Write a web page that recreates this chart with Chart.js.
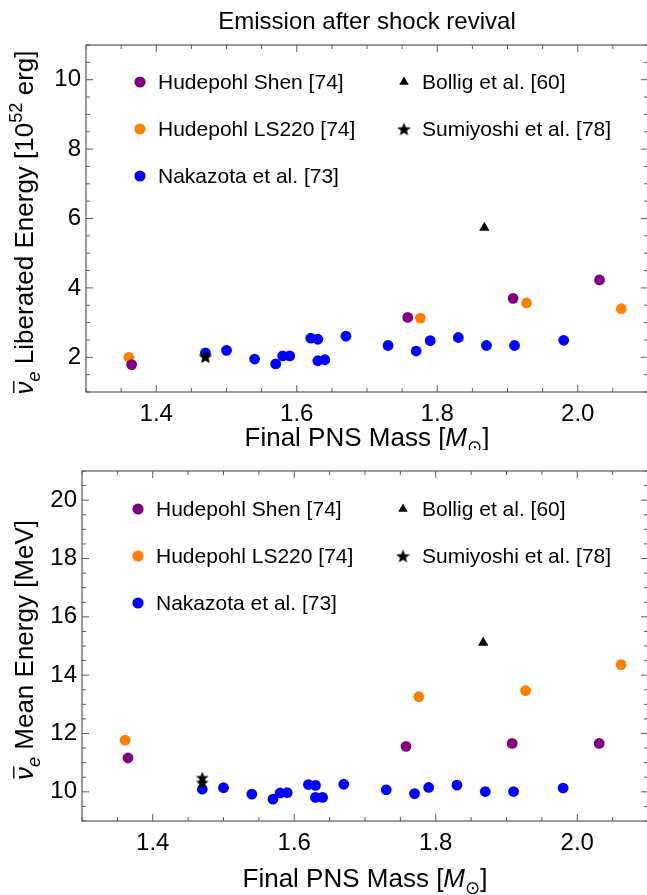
<!DOCTYPE html>
<html><head><meta charset="utf-8">
<script src="https://cdn.jsdelivr.net/npm/chart.js@4.4.1/dist/chart.umd.min.js"></script>
<style>
html,body{margin:0;padding:0;background:#fff;overflow:hidden;width:647px;height:895px;}
.wrap{position:absolute;left:0;width:650px;}
#w1{top:0;height:450px;} #w2{top:450px;height:445px;}
canvas{display:block;}
</style></head><body>
<div class="wrap" id="w1"><canvas id="c1"></canvas></div>
<div class="wrap" id="w2"><canvas id="c2"></canvas></div>
<script>
// ---- data ----
const seriesNames = ['Hudepohl Shen [74]','Hudepohl LS220 [74]','Nakazota et al. [73]','Bollig et al. [60]','Sumiyoshi et al. [78]'];
const massShen = [1.365, 1.758, 1.908, 2.031];
const energyShen = [1.79, 3.15, 3.70, 4.23];
const meanShen = [11.16, 11.56, 11.66, 11.66];
const massLS220 = [1.361, 1.776, 1.927, 2.062];
const energyLS220 = [2.00, 3.13, 3.57, 3.40];
const meanLS220 = [11.77, 13.26, 13.47, 14.36];
const massNakazato = [1.47,1.50,1.54,1.57,1.58,1.59,1.62,1.63,1.63,1.64,1.67,1.73,1.77,1.79,1.83,1.87,1.91,1.98];
const energyNakazato = [2.13,2.20,1.95,1.81,2.04,2.04,2.55,2.52,1.90,1.93,2.61,2.34,2.18,2.48,2.57,2.34,2.34,2.49];
const meanNakazato = [10.09,10.14,9.92,9.75,9.96,9.97,10.25,10.22,9.81,9.81,10.26,10.07,9.94,10.15,10.23,10.01,10.01,10.13];
const massBollig = [1.867];
const energyBollig = [5.73];
const meanBollig = [15.11];
const massSumiyoshi = [1.47, 1.47];
const energySumiyoshi = [2.05, 2.01];
const meanSumiyoshi = [10.49, 10.32];
const xTicks = [1.4, 1.6, 1.8, 2.0];
const yTicksEnergy = [2, 4, 6, 8, 10];
const yTicksMean = [10, 12, 14, 16, 18, 20];

const FONT = "'Liberation Sans', Arial, 'DejaVu Sans', sans-serif";
const FRAME = '#5a5a5a';
const PURPLE = '#800080', ORANGE = '#ff8000', BLUE = '#0000ff', BLACK = '#000000';

Chart.defaults.font.family = FONT;
Chart.defaults.color = '#000';

// filled five-point star as point style
function makeStar(size){
  const c = document.createElement('canvas');
  c.width = size; c.height = size;
  const g = c.getContext('2d');
  const cx = size/2, cy = size/2 + 0.7, R = size/2 - 0.2, r = R*0.42;
  g.beginPath();
  for (let i = 0; i < 10; i++){
    const rad = i % 2 ? r : R;
    const a = -Math.PI/2 + i*Math.PI/5;
    const px = cx + rad*Math.cos(a), py = cy + rad*Math.sin(a);
    i ? g.lineTo(px, py) : g.moveTo(px, py);
  }
  g.closePath(); g.fillStyle = '#000'; g.fill();
  return c;
}
const starPt = makeStar(14);
const starLeg = makeStar(15);

function pts(xs, ys){ return xs.map((x,i)=>({x:x, y:ys[i]})); }

function datasets(yShen, yLS, yNak, yBol, ySum){
  return [
    {label: seriesNames[4], data: pts(massSumiyoshi, ySum), pointStyle: starPt, pointRadius: 7, backgroundColor: BLACK, borderColor: BLACK},
    {label: seriesNames[3], data: pts(massBollig, yBol), pointStyle: 'triangle', pointRadius: 6, backgroundColor: BLACK, borderColor: BLACK, borderWidth: 0},
    {label: seriesNames[0], data: pts(massShen, yShen), pointStyle: 'circle', pointRadius: 5.4, backgroundColor: PURPLE, borderWidth: 0},
    {label: seriesNames[1], data: pts(massLS220, yLS), pointStyle: 'circle', pointRadius: 5.4, backgroundColor: ORANGE, borderWidth: 0},
    {label: seriesNames[2], data: pts(massNakazato, yNak), pointStyle: 'circle', pointRadius: 5.4, backgroundColor: BLUE, borderWidth: 0}
  ];
}

// rich text helper: segments drawn left to right on the baseline
function richWidth(ctx, segs, f){
  let w = 0;
  segs.forEach(s => { ctx.font = (s.it ? 'italic ' : '') + (s.sub||s.sup ? f*0.7 : f) + 'px ' + FONT; w += ctx.measureText(s.t).width; });
  return w;
}
function drawRich(ctx, segs, f, x0, base){
  let x = x0;
  segs.forEach(s => {
    const fs = (s.sub||s.sup) ? f*0.7 : f;
    ctx.font = (s.it ? 'italic ' : '') + fs + 'px ' + FONT;
    const w = ctx.measureText(s.t).width;
    let y = base;
    if (s.sub) y += f*0.26;
    if (s.sup) y -= f*0.42;
    ctx.fillText(s.t, x, y);
    if (s.bar){
      ctx.save(); ctx.lineWidth = 1.4; ctx.strokeStyle = '#000';
      ctx.beginPath(); ctx.moveTo(x + 1.5, base - f*0.74); ctx.lineTo(x + w + 0.5, base - f*0.74); ctx.stroke();
      ctx.restore();
    }
    x += w;
  });
}

const decor = {
  id: 'decor',
  afterDraw(chart, args, o){
    const {ctx, chartArea: a, scales: {x, y}} = chart;
    ctx.save();
    // frame
    ctx.strokeStyle = FRAME; ctx.lineWidth = 1.2;
    ctx.strokeRect(a.left, a.top, a.right - a.left, a.bottom - a.top);
    // ticks on all four sides, inward
    ctx.beginPath();
    const xi0 = Math.ceil(x.min/0.05 - 1e-6), xi1 = Math.floor(x.max/0.05 + 1e-6);
    for (let i = xi0; i <= xi1; i++){
      const v = i*0.05, px = x.getPixelForValue(v);
      const major = xTicks.some(t => Math.abs(t - v) < 1e-6);
      const L = major ? 7 : 4;
      ctx.moveTo(px, a.bottom); ctx.lineTo(px, a.bottom - L);
      ctx.moveTo(px, a.top); ctx.lineTo(px, a.top + L);
    }
    const yi0 = Math.ceil(y.min/0.5 - 1e-6), yi1 = Math.floor(y.max/0.5 + 1e-6);
    for (let i = yi0; i <= yi1; i++){
      const v = i*0.5, py = y.getPixelForValue(v);
      const major = o.yTicks.some(t => Math.abs(t - v) < 1e-6);
      const L = major ? 7 : 4;
      ctx.moveTo(a.left, py); ctx.lineTo(a.left + L, py);
      ctx.moveTo(a.right, py); ctx.lineTo(a.right - L, py);
    }
    ctx.lineWidth = 1; ctx.stroke();

    ctx.fillStyle = '#000';
    ctx.textBaseline = 'alphabetic'; ctx.textAlign = 'left';
    const cx = (a.left + a.right)/2;
    // main title
    if (o.title){
      const f = 24;
      ctx.font = f + 'px ' + FONT;
      ctx.textAlign = 'center';
      ctx.fillText(o.title, cx, 29);
      ctx.textAlign = 'left';
    }
    // x title
    const xf = 26;
    const xs = [{t:'Final PNS Mass ['},{t:'M', it:true},{t:'\u2299', sub:true},{t:']'}];
    const xw = richWidth(ctx, xs, xf);
    drawRich(ctx, xs, xf, cx - xw/2, a.bottom + o.xTitleOff);
    // y title (rotated)
    const yf = 26;
    const ys = o.ySegs;
    const yw = richWidth(ctx, ys, yf);
    ctx.save();
    ctx.translate(o.yTitleX, (a.top + a.bottom)/2 + 4);
    ctx.rotate(-Math.PI/2);
    drawRich(ctx, ys, yf, -yw/2, 9);
    ctx.restore();

    // legend (two columns inside plot)
    const lf = 21;
    const rows = o.legRows;
    const cols = o.legCols;
    const items = [
      {ds:2, c:0, r:0}, {ds:3, c:0, r:1}, {ds:4, c:0, r:2},
      {ds:1, c:1, r:0}, {ds:0, c:1, r:1}
    ];
    ctx.font = lf + 'px ' + FONT;
    items.forEach(it => {
      const d = chart.data.datasets[it.ds];
      const mx = a.left + cols[it.c].m, my = a.top + rows[it.r];
      const st = d.pointStyle;
      const rad = st === 'triangle' ? 5.5 : (st === 'circle' ? 5.6 : 7.5);
      ctx.save();
      ctx.fillStyle = d.backgroundColor; ctx.strokeStyle = d.backgroundColor; ctx.lineWidth = 0.01;
      Chart.helpers.drawPoint(ctx, {pointStyle: st === starPt ? starLeg : st, radius: rad, borderWidth: 0}, mx, my);
      ctx.restore();
      ctx.fillStyle = '#000';
      ctx.textBaseline = 'middle';
      ctx.fillText(d.label, a.left + cols[it.c].t, my + 1);
    });
    ctx.restore();
  }
};

function makeChart(id, yData, yMin, yMax, yTicks, padTop, yAxisW, xAxisH, opts){
  return new Chart(document.getElementById(id), {
    type: 'scatter',
    data: {datasets: yData},
    options: {
      responsive: true, maintainAspectRatio: false, animation: false,
      layout: {autoPadding: false, padding: {left: 0, right: 2, top: padTop, bottom: 0}},
      plugins: {legend: {display: false}, tooltip: {enabled: false}, title: {display: false}, decor: Object.assign({yTicks: yTicks}, opts)},
      scales: {
        x: {
          type: 'linear', min: 1.3, max: 2.1,
          grid: {display: false, drawTicks: false}, border: {display: false},
          afterBuildTicks: s => { s.ticks = xTicks.map(v => ({value: v})); },
          afterFit: s => { s.height = xAxisH; },
          ticks: {font: {size: 24}, padding: 8, color: '#000', maxRotation: 0, callback: v => Number(v).toFixed(1)}
        },
        y: {
          type: 'linear', min: yMin, max: yMax,
          grid: {display: false, drawTicks: false}, border: {display: false},
          afterBuildTicks: s => { s.ticks = yTicks.map(v => ({value: v})); },
          afterFit: s => { s.width = yAxisW; },
          ticks: {font: {size: 24}, padding: 5, color: '#000', callback: v => String(v)}
        }
      }
    },
    plugins: [decor]
  });
}

makeChart('c1', datasets(energyShen, energyLS220, energyNakazato, energyBollig, energySumiyoshi), 1, 11, yTicksEnergy, 45, 86, 58, {
  title: 'Emission after shock revival', xTitleOff: 54, yTitleX: 24,
  legRows: [37, 84, 131], legCols: [{m:54, t:72}, {m:318, t:336}],
  ySegs: [{t:'\u03BD', it:true, bar:true},{t:'e', it:true, sub:true},{t:' Liberated Energy [10'},{t:'52', sup:true},{t:' erg]'}]
});
makeChart('c2', datasets(meanShen, meanLS220, meanNakazato, meanBollig, meanSumiyoshi), 9, 21, yTicksMean, 21, 82, 74, {
  xTitleOff: 66, yTitleX: 24,
  legRows: [38, 85, 132], legCols: [{m:56, t:74}, {m:321, t:340}],
  ySegs: [{t:'\u03BD', it:true, bar:true},{t:'e', it:true, sub:true},{t:' Mean Energy [MeV]'}]
});
</script>
</body></html>
